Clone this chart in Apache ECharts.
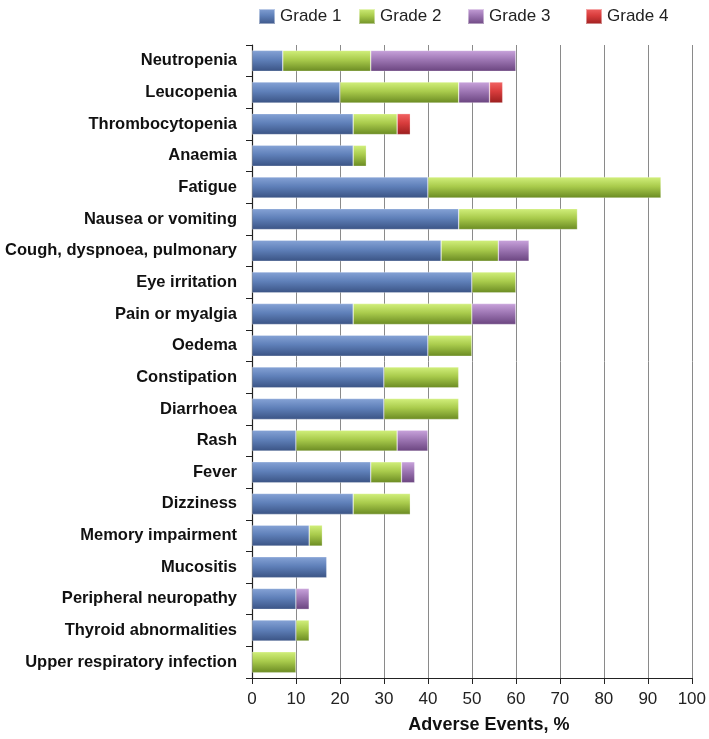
<!DOCTYPE html>
<html>
<head>
<meta charset="utf-8">
<script src="https://cdn.jsdelivr.net/npm/echarts@6/dist/echarts.min.js"></script>
<style>html,body{margin:0;padding:0;background:#fff;}#chart{width:709px;height:739px;}</style>
</head>
<body>
<div id="chart"></div>
<script>
var categories = ["Neutropenia","Leucopenia","Thrombocytopenia","Anaemia","Fatigue","Nausea or vomiting","Cough, dyspnoea, pulmonary","Eye irritation","Pain or myalgia","Oedema","Constipation","Diarrhoea","Rash","Fever","Dizziness","Memory impairment","Mucositis","Peripheral neuropathy","Thyroid abnormalities","Upper respiratory infection"];
var grade1 = [7,20,23,23,40,47,43,50,23,40,30,30,10,27,23,13,17,10,10,0];
var grade2 = [20,27,10,3,53,27,13,10,27,10,17,17,23,7,13,3,0,0,3,10];
var grade3 = [33,7,0,0,0,0,7,0,10,0,0,0,7,3,0,0,0,3,0,0];
var grade4 = [0,3,3,0,0,0,0,0,0,0,0,0,0,0,0,0,0,0,0,0];
var seriesNames = ["Grade 1","Grade 2","Grade 3","Grade 4"];
var xTicks = [0,10,20,30,40,50,60,70,80,90,100];

function grad(top, mid, bottom) {
  return new echarts.graphic.LinearGradient(0, 0, 0, 1, [
    {offset: 0, color: top}, {offset: 0.45, color: mid}, {offset: 1, color: bottom}
  ]);
}
var colors = [
  grad('#86a3d6', '#5f80b9', '#3a5384'),
  grad('#d2f07c', '#a9cb4c', '#6a8a22'),
  grad('#c9a3dc', '#9d76b3', '#6a447f'),
  grad('#f26464', '#d83c3c', '#9a1e1e')
];
var allData = [grade1, grade2, grade3, grade4];
var legendLefts = [253, 353, 462, 580];

var chart = echarts.init(document.getElementById('chart'), null, {renderer: 'canvas'});
var series = seriesNames.map(function (n, i) {
  return {
    name: n, type: 'bar', stack: 'total', barWidth: 21,
    itemStyle: {color: colors[i], borderColor: 'rgba(255,255,255,0.45)', borderWidth: 0.6},
    data: allData[i].map(function (v) { return v === 0 ? null : v; })
  };
});
var legends = seriesNames.map(function (n, i) {
  return {
    data: [n], left: legendLefts[i], top: 3, icon: 'rect', itemWidth: 16, itemHeight: 15,
    itemGap: 0, textStyle: {fontSize: 17, color: '#222', fontFamily: 'Liberation Sans, Arial, sans-serif'}
  };
});
chart.setOption({
  animation: false,
  legend: legends,
  grid: {left: 252, right: 14, top: 45, bottom: 61},
  xAxis: {
    type: 'value', min: 0, max: 100, interval: 10,
    axisLine: {show: true, lineStyle: {color: '#222', width: 1.2}},
    axisTick: {show: true, length: 6, lineStyle: {color: '#222'}},
    splitLine: {show: true, lineStyle: {color: '#8a8a8a', width: 1}},
    axisLabel: {fontSize: 17, color: '#222', margin: 13, fontFamily: 'Liberation Sans, Arial, sans-serif',
      formatter: function (v) { return xTicks.indexOf(v) >= 0 ? String(v) : ''; }},
    name: 'Adverse Events, %', nameLocation: 'middle', nameGap: 38,
    nameTextStyle: {fontSize: 18, fontWeight: 'bold', color: '#111', fontFamily: 'Liberation Sans, Arial, sans-serif', padding: [0, 0, 0, 34]}
  },
  yAxis: {
    type: 'category', inverse: true, data: categories,
    axisLine: {show: true, lineStyle: {color: '#222', width: 1.2}},
    axisTick: {show: true, length: 6, lineStyle: {color: '#222'}},
    axisLabel: {fontSize: 16.5, fontWeight: 'bold', color: '#111', margin: 15, fontFamily: 'Liberation Sans, Arial, sans-serif'},
    splitLine: {show: false}
  },
  series: series
});
</script>
</body>
</html>
